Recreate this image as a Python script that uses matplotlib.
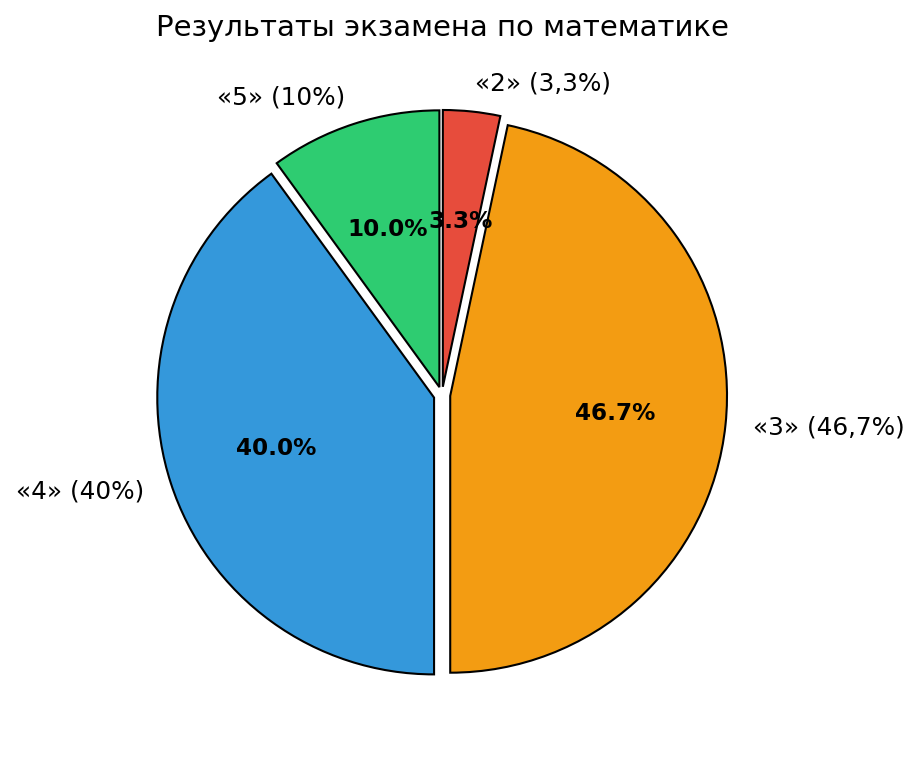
import matplotlib
matplotlib.use("Agg")
import matplotlib.pyplot as plt

labels = ["«2» (3,3%)", "«3» (46,7%)", "«4» (40%)", "«5» (10%)"]
values = [1, 14, 12, 3]
colors = ["#e74c3c", "#f39c12", "#3498db", "#2ecc71"]
explode = [0.03, 0.03, 0.03, 0.03]

fig = plt.figure(figsize=(9.22, 7.57), dpi=100)
ax = fig.add_axes([0.1041, 0.0211, 0.7505, 0.9141])
wedges, texts, autotexts = ax.pie(
    values, labels=labels, colors=colors, explode=explode,
    startangle=90, counterclock=False, autopct="%1.1f%%",
    wedgeprops=dict(edgecolor="black", linewidth=1.5),
    textprops=dict(fontsize=17.8), pctdistance=0.6, labeldistance=1.1)
for t in autotexts:
    t.set_fontweight("bold")
    t.set_fontsize(16.7)
ax.set_xlim(-1.25, 1.25)
ax.set_ylim(-1.25, 1.25)
ax.set_aspect("equal")
fig.text(442.5 / 922, 1 - 28 / 757, "Результаты экзамена по математике",
         fontsize=21, ha="center", va="center")
fig.savefig("out.png", dpi=100)
